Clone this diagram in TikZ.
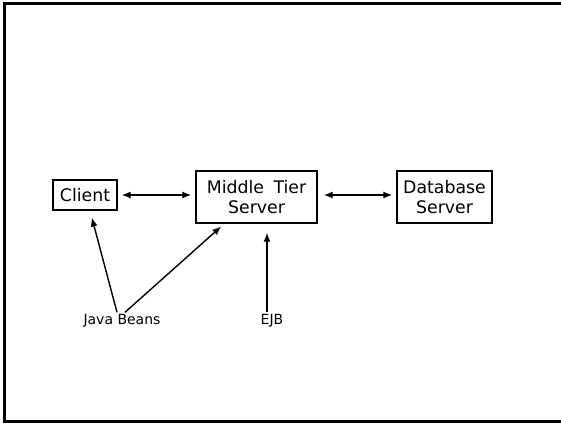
\documentclass[tikz,border=0pt]{standalone}
\usepackage{fontspec}
\setmainfont{DejaVu Sans}
\usetikzlibrary{arrows.meta}
\begin{document}
\begin{tikzpicture}[x=1pt,y=-1pt,
  box/.style={draw,line width=1.4pt,minimum height=#1,inner sep=0pt,align=center,font=\fontsize{17.3}{19.5}\selectfont},
  lbl/.style={font=\fontsize{14}{16}\selectfont,inner sep=2pt},
  arr/.style={line width=1.4pt,-{Latex[length=9pt,width=7pt]}},
  darr/.style={line width=1.4pt,{Latex[length=9pt,width=7pt]}-{Latex[length=9pt,width=7pt]}}]
\useasboundingbox (0,0) rectangle (561,424);
\draw[line width=3pt] (561,3.5) -- (4.5,3.5) -- (4.5,421.5) -- (561,421.5);
\node[box=30pt,minimum width=64pt] (client) at (85,195) {Client};
\node[box=52pt,minimum width=121pt] (middle) at (256.5,197) {Middle\hspace{0.55em}Tier\\Server};
\node[box=52pt,minimum width=95pt] (db) at (444.5,197) {Database\\Server};
\node[lbl] (jb) at (122,321) {Java Beans};
\node[lbl] (ejb) at (272,321) {EJB};
\draw[darr,shorten <=4pt,shorten >=4pt] (client.east) -- (middle.west |- client.east);
\draw[darr,shorten <=6pt,shorten >=4pt] (middle.east |- client.east) -- (db.west |- client.east);
\draw[arr,shorten >=7pt] ([xshift=-5pt]jb.north) -- ([xshift=5pt]client.south);
\draw[arr,shorten >=4pt] ([xshift=3pt]jb.north) -- ([xshift=29pt]middle.south west);
\draw[arr,shorten >=9pt] ([xshift=-5pt]ejb.north) -- ([xshift=10.5pt]middle.south);
\end{tikzpicture}
\end{document}
